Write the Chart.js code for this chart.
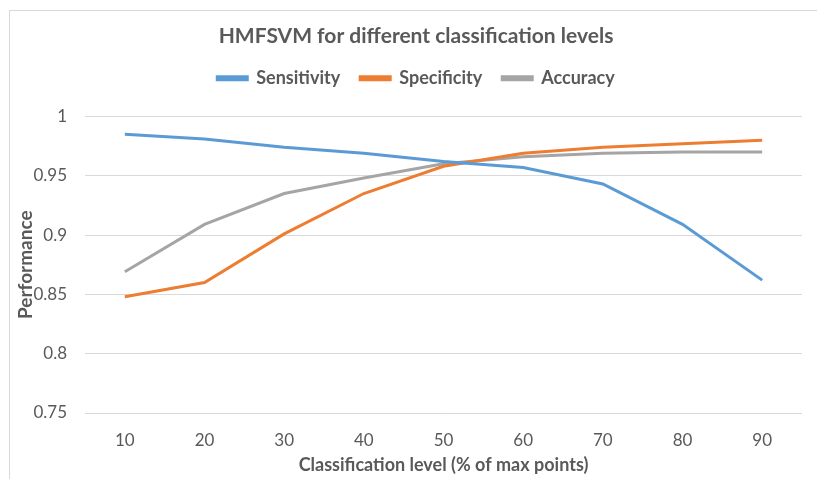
<!DOCTYPE html>
<html>
<head>
<meta charset="utf-8">
<script src="https://cdn.jsdelivr.net/npm/chart.js@4.4.1/dist/chart.umd.min.js"></script>
<style>
  body { margin: 0; background: #fff; }
  #wrap { position: relative; width: 817px; height: 479px; }
  #frame {
    position: absolute; left: 9px; top: 10px; right: -5px; bottom: -5px;
    border-top: 1px solid #d9d9d9; border-left: 1px solid #d9d9d9;
  }
  canvas { position: absolute; left: 0; top: 0; }
</style>
</head>
<body>
<div id="wrap">
  <div id="frame"></div>
  <canvas id="perfChart" width="817" height="479"></canvas>
</div>
<script>
// Categories and series
const levels = ["10", "20", "30", "40", "50", "60", "70", "80", "90"];
const sensitivity = [0.985, 0.981, 0.974, 0.969, 0.962, 0.957, 0.943, 0.909, 0.862];
const specificity = [0.848, 0.860, 0.901, 0.935, 0.958, 0.969, 0.974, 0.977, 0.980];
const accuracy = [0.869, 0.909, 0.935, 0.948, 0.960, 0.966, 0.969, 0.970, 0.970];
const yTicks = [0.75, 0.8, 0.85, 0.9, 0.95, 1];

const textGrey = "#595959";
const fontFamily = "Lato, 'Open Sans', sans-serif";

function lineSet(label, data, color) {
  return {
    label: label,
    data: data,
    borderColor: color,
    backgroundColor: color,
    borderWidth: 3,
    pointRadius: 0,
    tension: 0,
    fill: false,
  };
}

const ctx = document.getElementById("perfChart");
new Chart(ctx, {
  type: "line",
  data: {
    labels: levels,
    datasets: [
      lineSet("Sensitivity", sensitivity, "#5b9bd5"),
      lineSet("Specificity", specificity, "#ed7d31"),
      lineSet("Accuracy", accuracy, "#a5a5a5"),
    ],
  },
  options: {
    responsive: false,
    animation: false,
    layout: { padding: { left: 30, right: 15, top: 24, bottom: 3 } },
    plugins: {
      title: {
        display: true,
        text: "HMFSVM for different classification levels",
        color: textGrey,
        font: { family: fontFamily, size: 21, weight: "bold" },
        padding: { top: 0, bottom: 0 },
      },
      // empty spacer between legend and plot
      subtitle: {
        display: true,
        text: " ",
        weight: 500,
        font: { size: 1 },
        padding: { top: 0, bottom: 18 },
      },
      legend: {
        display: true,
        labels: {
          color: textGrey,
          font: { family: fontFamily, size: 18, weight: "bold" },
          boxWidth: 30,
          boxHeight: 3,
          padding: 20,
        },
      },
      tooltip: { enabled: false },
    },
    scales: {
      x: {
        offset: true,
        grid: { display: false },
        border: { display: false },
        ticks: { color: textGrey, font: { family: fontFamily, size: 17 }, padding: 9 },
        title: {
          display: true,
          text: "Classification level (% of max points)",
          color: textGrey,
          font: { family: fontFamily, size: 18, weight: "bold" },
          padding: { top: 0, bottom: 0 },
        },
        afterFit: (scale) => { scale.height = 63; },
      },
      y: {
        min: 0.75,
        max: 1,
        afterBuildTicks: (scale) => {
          scale.ticks = yTicks.map((v) => ({ value: v }));
        },
        grid: { color: "#d9d9d9", lineWidth: 1, drawTicks: false },
        border: { display: false },
        ticks: {
          color: textGrey,
          font: { family: fontFamily, size: 17 },
          padding: 18,
          callback: (v) => String(v),
        },
        title: {
          display: true,
          text: "Performance",
          color: textGrey,
          font: { family: fontFamily, size: 19, weight: "bold" },
          padding: { top: -16, bottom: 0 },
        },
        afterFit: (scale) => { scale.width = 55; },
      },
    },
  },
});
</script>
</body>
</html>
